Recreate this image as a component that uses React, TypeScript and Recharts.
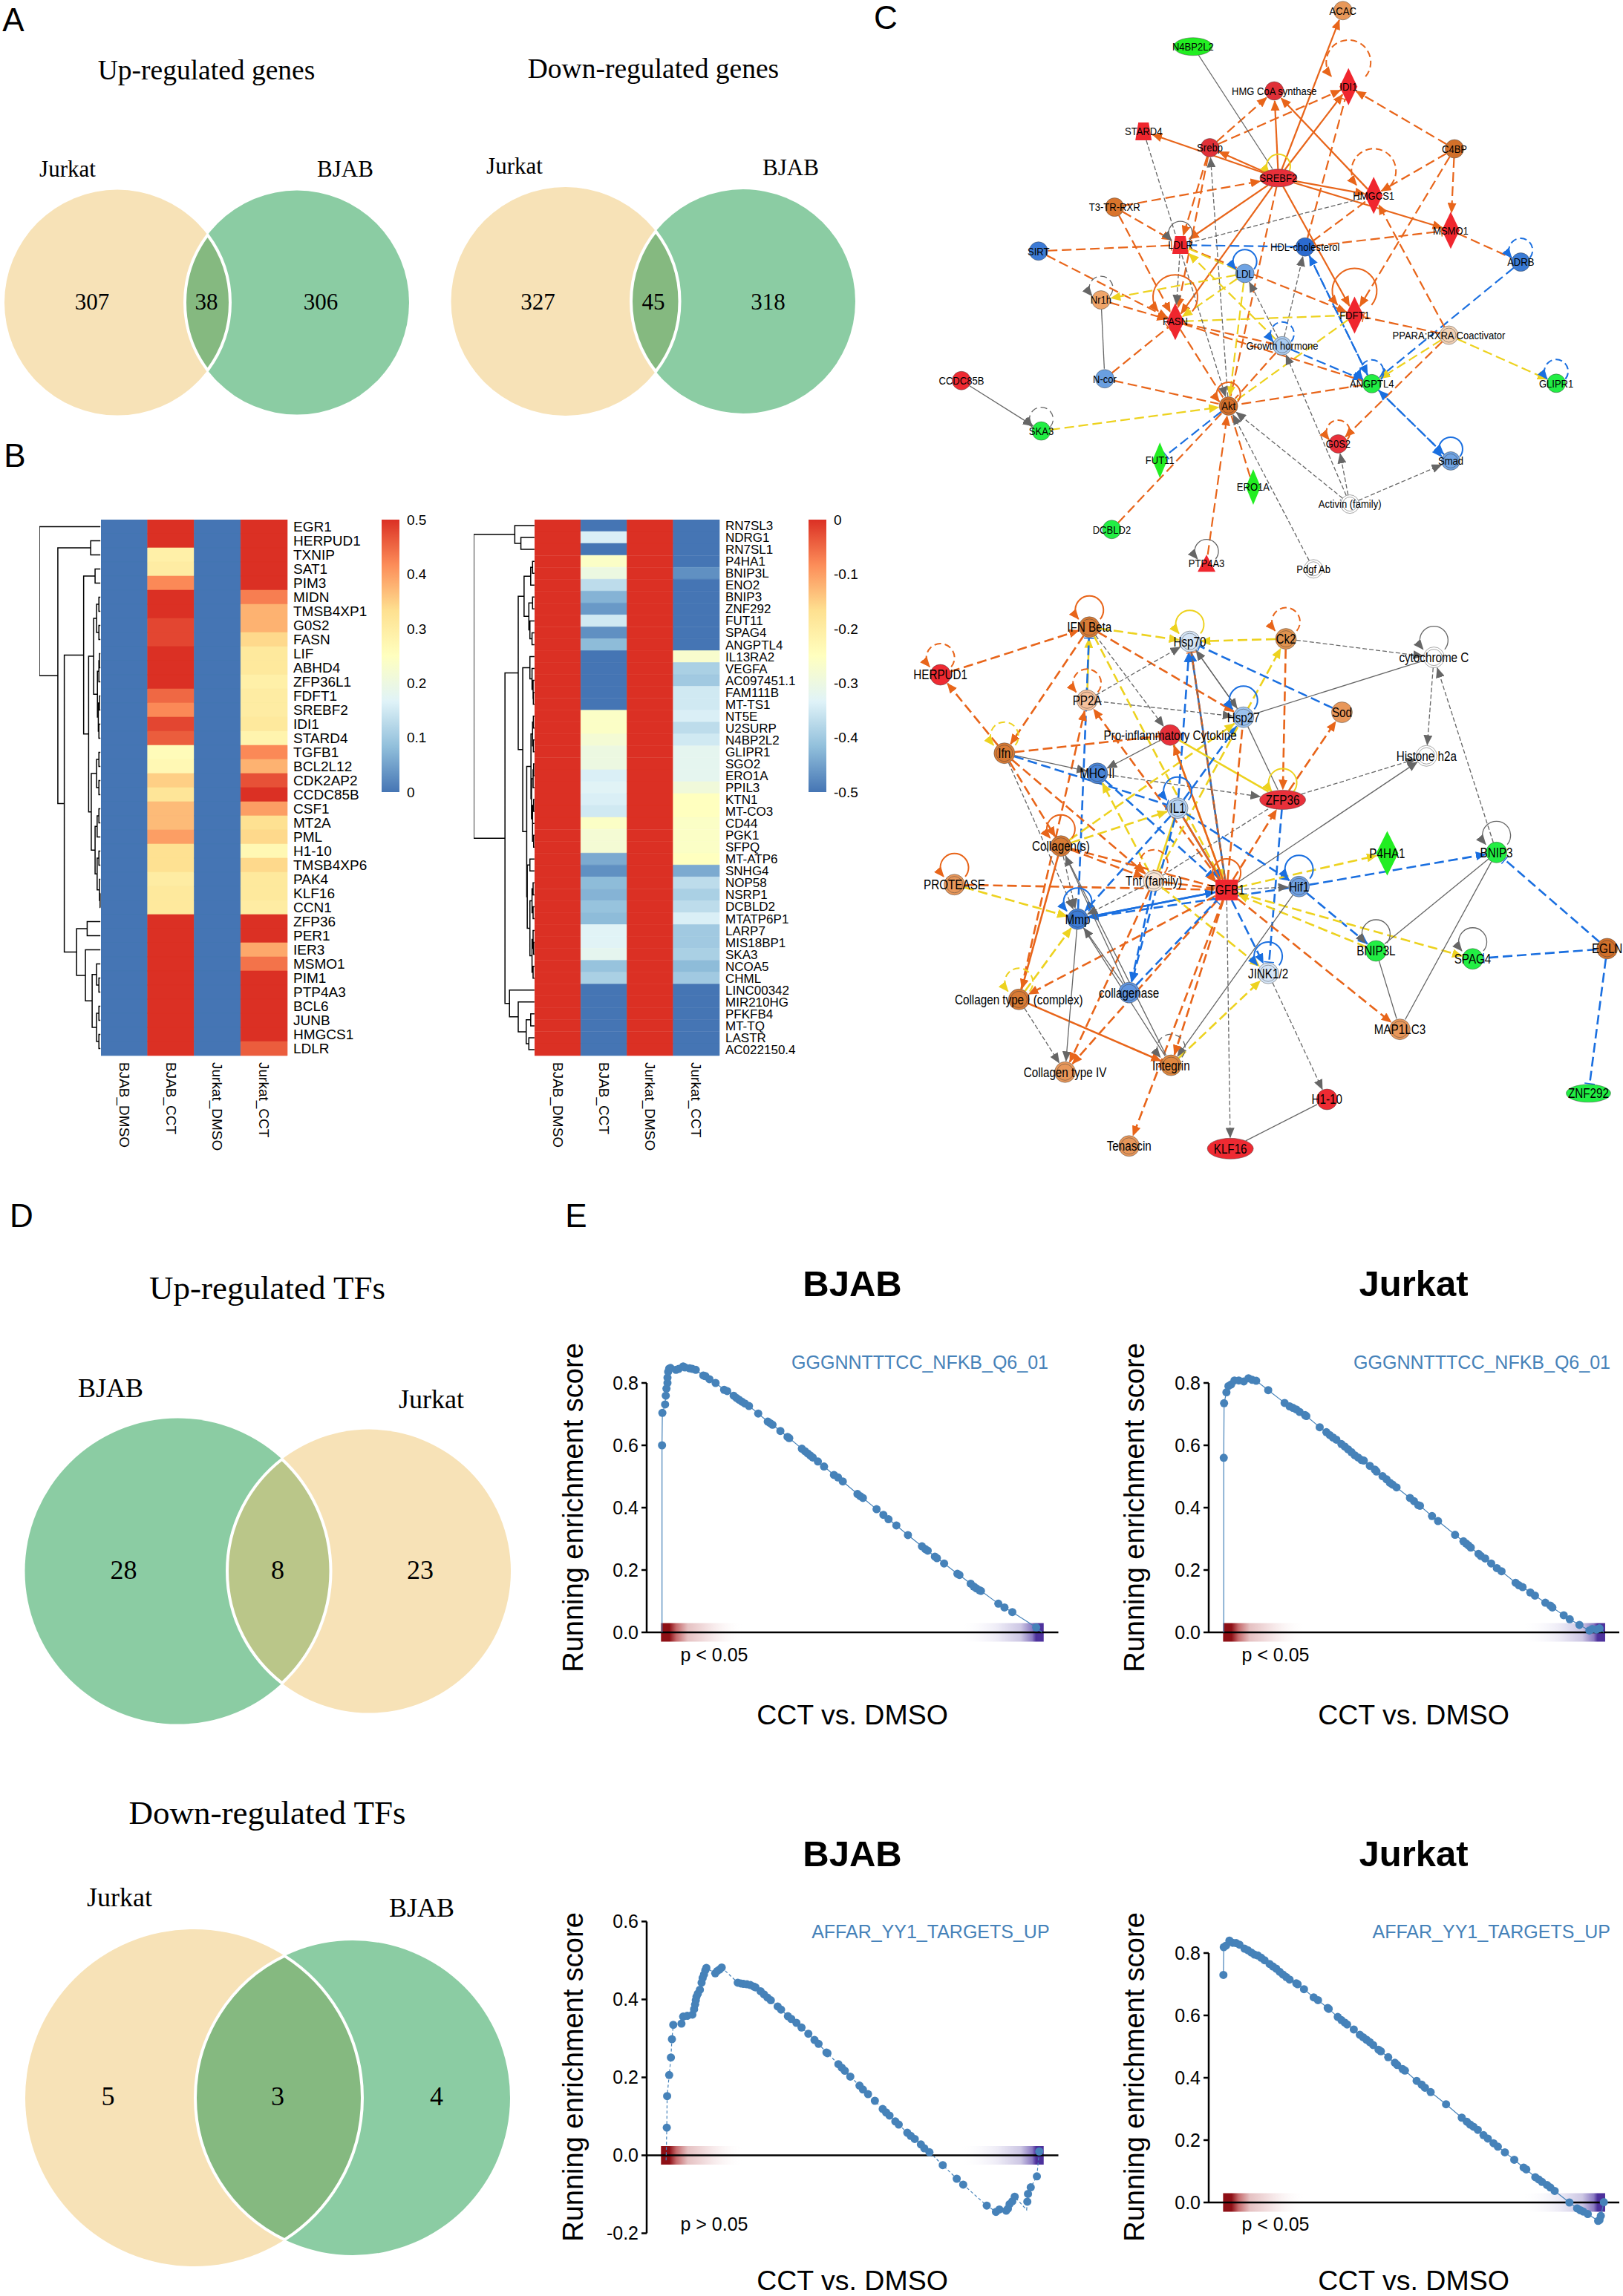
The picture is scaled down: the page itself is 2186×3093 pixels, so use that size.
import React from "react";
import { BarChart, Bar, Cell, XAxis, YAxis, ComposedChart, Line, ScatterChart, Scatter, ReferenceLine, ReferenceArea } from "recharts";

// ---------- Venn data ----------
const upGeneCounts = [307, 38, 306];
const downGeneCounts = [327, 45, 318];
const upTfCounts = [28, 8, 23];
const downTfCounts = [5, 3, 4];

// ---------- Heatmap data ----------
const samples = ["BJAB_DMSO", "BJAB_CCT", "Jurkat_DMSO", "Jurkat_CCT"];
const upGenes = ["EGR1","HERPUD1","TXNIP","SAT1","PIM3","MIDN","TMSB4XP1","G0S2","FASN","LIF","ABHD4","ZFP36L1","FDFT1","SREBF2","IDI1","STARD4","TGFB1","BCL2L12","CDK2AP2","CCDC85B","CSF1","MT2A","PML","H1-10","TMSB4XP6","PAK4","KLF16","CCN1","ZFP36","PER1","IER3","MSMO1","PIM1","PTP4A3","BCL6","JUNB","HMGCS1","LDLR"];
const upBjabCct = [.5,.5,.29,.3,.42,.5,.5,.48,.48,.5,.5,.5,.45,.42,.48,.46,.26,.27,.35,.32,.37,.37,.4,.33,.33,.3,.31,.31,.5,.5,.5,.5,.5,.5,.5,.5,.5,.5];
const upJurkatCct = [.5,.5,.5,.5,.5,.43,.38,.38,.34,.31,.31,.29,.3,.3,.31,.28,.42,.38,.47,.5,.4,.33,.34,.27,.34,.31,.31,.3,.5,.5,.39,.44,.5,.5,.5,.5,.5,.46];
const downGenes = ["RN7SL3","NDRG1","RN7SL1","P4HA1","BNIP3L","ENO2","BNIP3","ZNF292","FUT11","SPAG4","ANGPTL4","IL13RA2","VEGFA","AC097451.1","FAM111B","MT-TS1","NT5E","U2SURP","N4BP2L2","GLIPR1","SGO2","ERO1A","PPIL3","KTN1","MT-CO3","CD44","PGK1","SFPQ","MT-ATP6","SNHG4","NOP58","NSRP1","DCBLD2","MTATP6P1","LARP7","MIS18BP1","SKA3","NCOA5","CHML","LINC00342","MIR210HG","PFKFB4","MT-TQ","LASTR","AC022150.4"];
const downBjabCct = [-.5,-.34,-.5,-.26,-.3,-.37,-.43,-.46,-.35,-.47,-.42,-.5,-.5,-.5,-.5,-.5,-.26,-.26,-.28,-.3,-.3,-.34,-.33,-.34,-.35,-.26,-.28,-.28,-.44,-.47,-.42,-.43,-.41,-.42,-.33,-.33,-.32,-.41,-.39,-.5,-.5,-.5,-.5,-.5,-.5];
const downJurkatCct = [-.5,-.5,-.5,-.5,-.47,-.5,-.5,-.5,-.5,-.5,-.5,-.27,-.39,-.4,-.35,-.35,-.34,-.37,-.35,-.32,-.32,-.32,-.29,-.25,-.25,-.26,-.26,-.26,-.25,-.44,-.37,-.39,-.37,-.34,-.4,-.4,-.39,-.42,-.4,-.5,-.5,-.5,-.5,-.5,-.5];
const upBarTicks = [0, .1, .2, .3, .4, .5];
const downBarTicks = [-.5, -.4, -.3, -.2, -.1, 0];

// [height, childA, childB]; a number child is a row index
const upTree: any = [135, 0, [198, [310, 1, 2], [220,
  [286, [325, 3, 4], [303,
    [320, [330, [338, 5, 6], [338, 7, 8]], [333, [338, [340, 9, 10], 11], [336, [340, 12, 13], [338, 14, 15]]]],
    [312, [330, [338, 16, 17], [338, 18, 19]], [325, [332, [338, 20, 21], 22], [332, [338, 23, 24], [340, 25, [342, 26, 27]]]]]]],
  [262, [298, 28, 29], [292, 30, [315, [330, 31, [338, 32, 33]], [330, [338, 34, 35], [338, 36, 37]]]]]]]];
const downTree: any = [50, [205, 0, [228, 1, 2]], [168,
  [218,
    [240, [265, [272, 3, 4], 5], [258, [272, 6, 7], [262, 8, [270, 9, 10]]]],
    [235,
      [262, 11, [270, 12, [274, 13, [275, 14, 15]]]],
      [250,
        [266, [272, [275, 16, 17], [275, 18, 19]], [268, [274, [276, 20, 21], 22], [272, [276, 23, 24], [272, 25, [276, 26, 27]]]]],
        [252, [262, 28, 29], [262, [270, [274, 30, 31], [274, 32, 33]], [270, [274, 34, [276, 35, 36]], [274, 37, 38]]]]]]],
  [185, 39, [218, 40, [248, [265, 41, 42], [258, 43, 44]]]]]];

// ---------- GSEA data ----------
const nfkbBjabRank = [331,331,332,340,342,344,347,347,349,352,356,372,380,393,398,412,420,430,452,458,470,488,513,522,541,549,557,565,574,586,613,641,648,655,678,699,704,741,750,758,766,773,788,806,835,847,861,904,912,920,960,980,995,1018,1052,1093,1103,1110,1131,1137,1158,1197,1203,1236,1245,1253,1262,1266,1317,1335,1358,1428,1445];
const nfkbBjabEs = [0,.6,.704,.731,.759,.782,.8,.817,.836,.846,.848,.842,.845,.853,.85,.847,.845,.842,.824,.822,.812,.8,.778,.774,.759,.752,.746,.74,.734,.726,.702,.676,.671,.666,.646,.627,.623,.589,.581,.574,.567,.561,.548,.532,.505,.497,.484,.444,.437,.431,.395,.377,.363,.343,.312,.276,.267,.262,.243,.238,.221,.188,.184,.156,.147,.141,.135,.133,.092,.08,.065,.016,0];
const nfkbJurkatRank = [373,373,374,381,387,395,405,418,433,447,458,470,506,555,570,580,590,600,616,620,660,680,690,700,710,725,735,745,755,765,775,785,792,810,825,830,848,860,870,878,890,930,942,955,960,996,1014,1065,1090,1098,1105,1112,1135,1142,1155,1173,1190,1204,1246,1256,1267,1290,1304,1335,1350,1356,1390,1408,1437,1467,1475,1488,1497,1510];
const nfkbJurkatEs = [0,.56,.735,.77,.79,.795,.808,.808,.805,.815,.81,.807,.777,.736,.725,.72,.715,.707,.697,.694,.658,.642,.633,.625,.618,.604,.596,.587,.578,.568,.561,.553,.551,.534,.522,.516,.501,.491,.48,.474,.465,.431,.421,.408,.406,.373,.357,.313,.292,.285,.279,.272,.252,.245,.237,.221,.206,.196,.159,.151,.145,.128,.118,.095,.086,.08,.055,.042,.024,.006,.011,.009,.013,0];
const yy1BjabRank = [343,345,346,352,357,360,364,388,393,405,420,425,428,430,432,436,442,447,450,454,458,461,487,493,500,506,553,562,570,580,590,600,605,620,630,640,650,670,680,700,710,725,740,760,778,790,813,816,848,858,867,883,910,920,935,955,978,988,998,1015,1025,1050,1060,1072,1090,1100,1115,1154,1195,1214,1283,1310,1320,1340,1345,1350,1358,1365,1400,1402,1404,1412,1430,1437];
const yy1BjabEs = [-.013,.071,.152,.206,.251,.298,.335,.338,.356,.358,.361,.375,.387,.398,.407,.415,.425,.443,.455,.464,.475,.481,.467,.473,.477,.482,.443,.441,.44,.439,.437,.433,.431,.421,.413,.405,.398,.382,.374,.357,.35,.34,.328,.312,.296,.286,.264,.262,.234,.225,.217,.202,.179,.169,.157,.14,.119,.11,.102,.087,.079,.058,.05,.042,.028,.018,.008,-.025,-.06,-.075,-.129,-.145,-.139,-.142,-.137,-.125,-.118,-.106,-.14,-.119,-.099,-.082,-.054,.01];
const yy1JurkatRank = [372,373,380,390,400,410,420,435,445,455,465,475,485,495,510,520,530,540,550,560,570,590,594,613,642,655,684,687,714,725,735,742,762,780,790,800,810,820,836,843,865,885,892,908,915,950,965,975,992,1038,1085,1100,1110,1120,1133,1150,1163,1180,1193,1214,1242,1270,1278,1305,1315,1325,1340,1350,1363,1407,1430,1440,1448,1462,1493,1497,1501,1510];
const yy1JurkatEs = [.73,.819,.824,.84,.833,.832,.827,.814,.809,.802,.795,.792,.785,.777,.765,.757,.75,.74,.731,.723,.715,.703,.7,.684,.658,.649,.624,.621,.595,.585,.577,.571,.555,.538,.53,.522,.514,.505,.49,.485,.466,.448,.441,.428,.423,.39,.378,.368,.354,.315,.272,.259,.25,.243,.233,.216,.205,.19,.179,.161,.137,.112,.106,.081,.074,.066,.056,.048,.037,0,-.019,-.025,-.029,-.037,-.059,-.056,-.043,.001];

// ---------- Network data ----------
const net1Layout: any = {
  "ACAC":[968,28,"c","#E8985A"],"N4BP2L2":[647,123,"e","#22EE22",26,12],"HMG CoA synthase":[821,240,"c","#E03038"],"IDI1":[980,229,"d","#F0262E"],
  "STARD4":[541,347,"t","#F0262E"],"Srebp":[683,390,"c","#E03038"],"C4BP":[1207,393,"c","#D2702A"],"SREBF2":[830,470,"e","#E8303A",25,12],
  "HMGCS1":[1034,516,"d","#F0262E"],"T3-TR-RXR":[479,547,"c","#D9742C"],"MSMO1":[1199,608,"d","#F0262E"],"LDLR":[620,647,"t","#F0262E"],
  "SIRT":[316,663,"c","#3B7AD6"],"HDL-cholesterol":[887,652,"c","#2B6BCF"],"ADRB":[1349,692,"c","#3A7BD5"],"LDL":[758,722,"c","#6FA3E3"],
  "Nr1h":[450,792,"c","#EFA56A"],"FASN":[609,849,"d","#F0262E"],"FDFT1":[993,832,"d","#F0262E"],"PPARA:RXRA Coactivator":[1195,885,"r","#F3D2B5"],
  "Growth hormone":[838,913,"r","#A9CBF0"],"N-cor":[458,1000,"c","#6A9FE0"],"CCDC85B":[151,1005,"c","#EE2A32"],"ANGPTL4":[1030,1013,"c","#22EE44"],
  "GLIPR1":[1425,1012,"c","#22EE44"],"Akt":[723,1072,"r","#D5702A"],"SKA3":[322,1138,"c","#22EE44"],"G0S2":[958,1172,"c","#E8303A"],
  "FUT11":[576,1215,"d","#22EE22",10,24],"Smad":[1199,1217,"r","#6FA3E3"],"ERO1A":[776,1286,"d","#22EE22",10,24],"Activin (family)":[983,1331,"r","#FFFFFF"],
  "DCBLD2":[473,1398,"c","#22EE44"],"PTP4A3":[676,1487,"a","#F0262E"],"Pdgf Ab":[905,1502,"r","#FFFFFF"],
};
const net1Edges = [
  ["SREBF2","ACAC","O","s","a"],["SREBF2","HMG CoA synthase","O","s","a"],["SREBF2","IDI1","O","s","a"],["SREBF2","Srebp","O","s","a"],["SREBF2","STARD4","O","s","a"],
  ["SREBF2","HMGCS1","O","s","a"],["SREBF2","MSMO1","O","s","a"],["SREBF2","LDLR","O","s","a"],["SREBF2","FASN","O","s","a"],["SREBF2","FDFT1","O","s","a"],["SREBF2","Akt","O","d","n"],
  ["Srebp","HMG CoA synthase","O","d","a"],["Srebp","IDI1","O","d","a"],["Srebp","LDLR","O","d","a"],["Srebp","FASN","O","d","a"],
  ["T3-TR-RXR","SREBF2","O","d","a"],["T3-TR-RXR","LDLR","O","d","a"],["T3-TR-RXR","FASN","O","d","a"],["HMGCS1","HMG CoA synthase","O","s","a"],
  ["C4BP","IDI1","O","d","a"],["C4BP","HMGCS1","O","d","a"],["C4BP","MSMO1","O","d","a"],["C4BP","FDFT1","O","d","a"],
  ["HDL-cholesterol","IDI1","O","d","t"],["HDL-cholesterol","HMGCS1","O","d","n"],["HDL-cholesterol","MSMO1","O","d","t"],["HDL-cholesterol","LDLR","B","d","t"],
  ["SIRT","LDLR","O","d","t"],["SIRT","FASN","O","d","a"],["Nr1h","FASN","O","d","a"],["N-cor","FASN","O","d","t"],["N-cor","Akt","O","d","n"],["MSMO1","ADRB","O","d","n"],
  ["LDLR","FDFT1","O","d","a"],["LDL","Nr1h","Y","d","a"],["LDL","LDLR","Y","d","t"],["LDL","FASN","Y","d","a"],["LDL","Akt","Y","d","a"],["Growth hormone","LDL","G","d","a"],
  ["Growth hormone","LDLR","Y","d","a"],["Growth hormone","HDL-cholesterol","G","d","a"],["ADRB","ANGPTL4","B","d","a"],["PPARA:RXRA Coactivator","ANGPTL4","Y","d","a"],
  ["PPARA:RXRA Coactivator","GLIPR1","Y","d","a"],["PPARA:RXRA Coactivator","HMGCS1","O","d","a"],["PPARA:RXRA Coactivator","FDFT1","O","d","t"],["PPARA:RXRA Coactivator","G0S2","O","d","a"],
  ["HDL-cholesterol","ANGPTL4","B","d","a"],["ANGPTL4","HDL-cholesterol","B","d","a"],["Growth hormone","ANGPTL4","B","d","a"],["FASN","ANGPTL4","O","d","n"],["FASN","Growth hormone","O","d","n"],
  ["FASN","FDFT1","Y","d","n"],["FDFT1","Akt","Y","d","n"],["Growth hormone","Akt","O","d","n"],["FASN","Akt","O","d","n"],["ANGPTL4","Akt","O","d","n"],["SKA3","Akt","Y","d","a"],
  ["Akt","FUT11","B","d","t"],["DCBLD2","Akt","O","d","n"],["PTP4A3","Akt","O","d","a"],["ERO1A","Akt","O","d","n"],["Pdgf Ab","Akt","G","d","a"],["Activin (family)","Akt","G","d","a"],
  ["Activin (family)","Growth hormone","G","d","a"],["Activin (family)","G0S2","G","d","a"],["Activin (family)","Smad","G","d","a"],["ANGPTL4","Smad","B","d","a"],["Smad","ANGPTL4","B","d","a"],
  ["CCDC85B","SKA3","G","s","a"],["N4BP2L2","SREBF2","G","s","n"],["Nr1h","N-cor","G","s","n"],["STARD4","Akt","G","d","a"],["LDLR","FASN","G","d","a"],["Akt","Srebp","G","d","a"],["LDLR","HMGCS1","G","d","n"],
];
const net1Loops: any = {
  "IDI1":["big","O","d"],"HMGCS1":["big","O","d"],"FASN":["big","O","s"],"FDFT1":["big","O","s"],"LDLR":["small","G","s"],"LDL":["small","B","s"],"Nr1h":["small","G","d"],
  "Growth hormone":["small","B","d"],"ANGPTL4":["small","B","d"],"GLIPR1":["small","B","d"],"ADRB":["small","B","d"],"SREBF2":["small","Y","s"],"Akt":["small","O","s"],
  "SKA3":["small","G","d"],"G0S2":["small","O","d"],"Smad":["small","B","s"],"PTP4A3":["small","G","s"],
};
const net2Layout: any = {
  "IFN Beta":[425,127,"r","#D97B35"],"Hsp70":[640,165,"r","#D5E5F7"],"Ck2":[846,158,"r","#E0934F"],"cytochrome C":[1163,207,"r","#FFFFFF"],"HERPUD1":[106,253,"c","#EE2A32"],
  "PP2A":[420,320,"r","#F5C09B"],"Hsp27":[755,365,"r","#9CC2EE"],"Sod":[966,352,"c","#E8975A"],"Pro-inflammatory Cytokine":[598,412,"c","#E8303A"],"Ifn":[243,460,"r","#D97B35"],
  "Histone h2a":[1147,467,"r","#FFFFFF"],"MHC II":[442,513,"r","#4A85D8"],"ZFP36":[839,583,"e","#E8303A",31,13],"IL1":[614,605,"r","#B5D2F2"],"Collagen(s)":[364,705,"r","#D97B35"],
  "P4HA1":[1063,724,"d","#22EE22",15,30],"BNIP3":[1297,722,"c","#22EE44"],"PROTEASE":[136,807,"r","#E8975A"],"Tnf (family)":[563,797,"r","#F8E5D5"],"TGFB1":[719,821,"s","#F0262E"],
  "Hif1":[874,812,"r","#6FA0E3"],"Mmp":[400,898,"r","#3D7CD6"],"BNIP3L":[1039,982,"c","#22EE44"],"SPAG4":[1246,1003,"c","#22EE44"],"EGLN":[1534,976,"r","#D2702A"],
  "JINK1/2":[808,1041,"r","#D5E5F7"],"collagenase":[510,1092,"r","#5F95E0"],"Collagen type I (complex)":[274,1110,"r","#D97B35"],"MAP1LC3":[1090,1189,"r","#E8975A"],
  "Integrin":[600,1284,"r","#E0883F"],"Collagen type IV":[373,1302,"r","#E8975A"],"ZNF292":[1494,1358,"e","#22EE44",30,12],"H1-10":[934,1374,"c","#EE2A32"],"Tenascin":[510,1497,"r","#E8975A"],"KLF16":[727,1504,"e","#EE2A32",31,14],
};
const net2Edges = [
  ["HERPUD1","IFN Beta","O","d","a"],["Ifn","HERPUD1","O","d","a"],["IFN Beta","Ifn","O","d","a"],["IFN Beta","Hsp70","Y","d","a"],["Ck2","Hsp70","Y","d","a"],["Ck2","ZFP36","O","d","a"],["Ck2","cytochrome C","G","d","a"],
  ["IFN Beta","Pro-inflammatory Cytokine","G","d","a"],["IFN Beta","Hsp27","O","d","a"],["IFN Beta","TGFB1","Y","d","n"],["PP2A","IFN Beta","Y","s","a"],["Mmp","IFN Beta","B","d","t"],["PP2A","Hsp70","G","d","a"],["PP2A","Hsp27","G","d","a"],
  ["TGFB1","PP2A","O","d","a"],["Collagen type I (complex)","PP2A","O","d","a"],["Hsp70","Hsp27","G","s","a"],["Hsp27","Hsp70","G","s","a"],["Sod","Hsp70","B","d","t"],["TGFB1","Hsp70","B","s","a"],["IL1","Hsp70","B","d","a"],["TGFB1","Hsp70","O","d","t"],
  ["Hsp27","ZFP36","G","s","n"],["Hsp70","TGFB1","G","d","n"],["cytochrome C","Histone h2a","G","d","a"],["Hsp27","cytochrome C","G","s","n"],["BNIP3","cytochrome C","G","d","a"],
  ["Ifn","Pro-inflammatory Cytokine","O","d","t"],["Ifn","MHC II","G","s","a"],["Ifn","IL1","B","d","t"],["Ifn","Tnf (family)","O","d","a"],["Ifn","Collagen(s)","O","d","a"],["Ifn","Mmp","G","d","a"],
  ["Pro-inflammatory Cytokine","MHC II","G","s","a"],["Pro-inflammatory Cytokine","ZFP36","Y","s","n"],["Pro-inflammatory Cytokine","TGFB1","Y","d","a"],["MHC II","ZFP36","G","d","a"],["MHC II","TGFB1","B","d","a"],
  ["ZFP36","Sod","O","d","a"],["ZFP36","Histone h2a","G","d","a"],["TGFB1","ZFP36","O","d","a"],["ZFP36","JINK1/2","B","d","t"],["Tnf (family)","ZFP36","G","d","n"],["TGFB1","Histone h2a","G","s","a"],
  ["IL1","Hsp27","B","d","a"],["TGFB1","Hsp27","O","d","n"],["Collagen(s)","Hsp27","Y","d","a"],["Collagen(s)","IL1","Y","d","a"],["Tnf (family)","MHC II","Y","d","a"],["Tnf (family)","Ck2","Y","d","a"],["Tnf (family)","IL1","Y","s","n"],
  ["IL1","TGFB1","B","s","a"],["IL1","Mmp","B","d","a"],["IL1","Hif1","B","d","a"],["TGFB1","IL1","O","s","n"],["IL1","collagenase","B","d","a"],["TGFB1","Pro-inflammatory Cytokine","O","s","a"],
  ["Collagen(s)","Tnf (family)","O","d","a"],["Collagen(s)","TGFB1","O","d","n"],["PROTEASE","TGFB1","O","d","n"],["PROTEASE","Mmp","Y","d","a"],["Tnf (family)","TGFB1","O","d","n"],["TGFB1","Mmp","B","s","a"],["Mmp","TGFB1","B","s","a"],
  ["Hif1","Mmp","B","d","a"],["Tnf (family)","Mmp","G","d","a"],["Collagen(s)","Mmp","G","d","a"],["Tnf (family)","collagenase","B","d","a"],["Hif1","BNIP3","B","d","a"],["TGFB1","P4HA1","Y","d","a"],["TGFB1","Hif1","G","d","a"],
  ["Hif1","BNIP3L","B","d","a"],["TGFB1","SPAG4","Y","d","a"],["BNIP3L","TGFB1","Y","d","a"],["TGFB1","MAP1LC3","O","d","a"],["BNIP3","BNIP3L","G","s","n"],["BNIP3","MAP1LC3","G","s","n"],["BNIP3L","MAP1LC3","G","s","n"],
  ["EGLN","BNIP3","B","d","t"],["EGLN","SPAG4","B","d","t"],["EGLN","ZNF292","B","d","t"],["Hif1","Integrin","G","s","a"],["Tnf (family)","JINK1/2","Y","d","a"],["TGFB1","JINK1/2","B","d","a"],["JINK1/2","H1-10","G","d","a"],
  ["TGFB1","KLF16","G","d","a"],["KLF16","H1-10","G","s","n"],["Integrin","JINK1/2","Y","d","a"],["TGFB1","Integrin","O","d","a"],["TGFB1","Tenascin","O","d","a"],["Collagen type I (complex)","Integrin","O","s","a"],
  ["Collagen type I (complex)","Collagen type IV","G","d","a"],["Collagen type I (complex)","Mmp","Y","d","a"],["Collagen(s)","Collagen type I (complex)","O","s","a"],["TGFB1","Collagen type I (complex)","O","d","a"],
  ["Mmp","Collagen type IV","G","s","a"],["Tnf (family)","Collagen type IV","O","d","a"],["TGFB1","Collagen type IV","O","d","a"],["collagenase","TGFB1","B","d","t"],["Mmp","Integrin","G","s","n"],["Collagen(s)","Integrin","G","s","n"],["collagenase","Mmp","G","s","a"],["collagenase","Collagen(s)","G","s","a"],
];
const net2Loops: any = {
  "IFN Beta":["mid","O","s"],"HERPUD1":["mid","O","d"],"PP2A":["mid","O","d"],"Hsp70":["mid","Y","s"],"Ck2":["mid","O","d"],"cytochrome C":["mid","G","s"],"Hsp27":["mid","B","s"],"Ifn":["mid","Y","d"],"ZFP36":["mid","Y","s"],
  "IL1":["mid","B","s"],"Collagen(s)":["mid","O","s"],"PROTEASE":["mid","O","s"],"Tnf (family)":["mid","O","d"],"TGFB1":["mid","O","s"],"Hif1":["mid","B","s"],"Mmp":["mid","B","s"],"BNIP3":["mid","G","s"],"BNIP3L":["mid","G","s"],
  "SPAG4":["mid","G","s"],"JINK1/2":["mid","B","s"],"Collagen type I (complex)":["mid","Y","d"],"Integrin":["mid","G","d"],
};

// ---------- styling ----------
const SANS = "'Liberation Sans', Arial, sans-serif";
const SERIF = "'Liberation Serif', 'Times New Roman', serif";
const CREAM = "#F7E2B7", GREEN = "#8BCCA3", LENS_G = "#85B980", LENS_Y = "#BAC689";
const STEEL = "#4682B9";
const RAMP = ["#4575B4", "#91BFDB", "#E0F3F8", "#FFFFBF", "#FEE090", "#FC8D59", "#DB3024"];
const EDGE: any = { O: "#E8651A", Y: "#EDD21F", B: "#1A6FE0", G: "#666666" };
const LOOP: any = { big: [30, 33], mid: [19, 23], small: [16, 16] };

function hexRgb(h: string) { return [1, 3, 5].map((i) => parseInt(h.slice(i, i + 2), 16)); }
function ramp(t: number) {
  const p = Math.max(0, Math.min(1, t)) * (RAMP.length - 1);
  const i = Math.min(RAMP.length - 2, Math.floor(p));
  const a = hexRgb(RAMP[i]), b = hexRgb(RAMP[i + 1]);
  const f = p - i;
  return `rgb(${a.map((v, k) => Math.round(v + (b[k] - v) * f)).join(",")})`;
}

function Txt({ x, y, size, children, font = SANS, weight = 400, color = "#000", rotate = 0 }: any) {
  return (
    <div style={{ position: "absolute", left: x, top: y, transform: `translate(-50%,-50%) rotate(${rotate}deg)`, fontFamily: font, fontSize: size, fontWeight: weight, color, whiteSpace: "nowrap", lineHeight: 1.2 }}>
      {children}
    </div>
  );
}
function TxtR({ right, y, size, children, color }: any) {
  return <div style={{ position: "absolute", right: 2186 - right, top: y, transform: "translateY(-50%)", fontFamily: SANS, fontSize: size, color, whiteSpace: "nowrap", lineHeight: 1.2 }}>{children}</div>;
}
function Abs({ left, top, children }: any) {
  return <div style={{ position: "absolute", left, top }}>{children}</div>;
}

// ---------- Venn ----------
function VennCircle(p: any) { return <circle cx={p.cx} cy={p.cy} r={p.payload.r} fill={p.payload.fill} />; }
function VennLens(p: any) {
  const { h, r1, r2, fill } = p.payload;
  const d = `M${p.cx} ${p.cy - h} A${r2} ${r2} 0 0 0 ${p.cx} ${p.cy + h} A${r1} ${r1} 0 0 0 ${p.cx} ${p.cy - h} Z`;
  return <path d={d} fill={fill} stroke="#fff" strokeWidth={4} />;
}
function Venn({ a, b, lens, box }: any) {
  const D = b.x - a.x;
  const da = (D * D + a.r * a.r - b.r * b.r) / (2 * D);
  const h = Math.sqrt(a.r * a.r - da * da);
  const lensRow = [{ x: a.x + da, y: (a.y + b.y) / 2, h, r1: a.r, r2: b.r, fill: lens }];
  return (
    <Abs left={box[0]} top={box[1]}>
      <ScatterChart width={box[2]} height={box[3]} margin={{ top: 0, right: 0, bottom: 0, left: 0 }}>
        <XAxis type="number" dataKey="x" domain={[box[0], box[0] + box[2]]} hide />
        <YAxis type="number" dataKey="y" domain={[box[1], box[1] + box[3]]} reversed hide />
        <Scatter data={[a, b]} shape={VennCircle} isAnimationActive={false} />
        <Scatter data={lensRow} shape={VennLens} isAnimationActive={false} />
      </ScatterChart>
    </Abs>
  );
}

// ---------- Heatmap ----------
function rowsFromTree(tree: any, top: number) {
  const pts: any[] = [];
  const walk = (n: any): any => {
    if (typeof n === "number") return { x: top, y: n + 0.5 };
    const A = walk(n[1]), B = walk(n[2]);
    pts.push({ x: A.x, row: A.y }, { x: n[0], row: A.y }, { x: n[0], row: B.y }, { x: B.x, row: B.y }, { x: B.x, row: null });
    return { x: n[0], y: (A.y + B.y) / 2 };
  };
  walk(tree);
  return pts;
}
function Dendro({ tree, lo, hi, n, left, width }: any) {
  return (
    <Abs left={left} top={700}>
      <ComposedChart width={width} height={722} data={rowsFromTree(tree, hi)} margin={{ top: 0, right: 0, bottom: 0, left: 0 }}>
        <XAxis type="number" dataKey="x" domain={[lo, hi]} hide />
        <YAxis type="number" domain={[0, n]} reversed hide />
        <Line dataKey="row" stroke="#000" strokeWidth={1.5} dot={false} isAnimationActive={false} />
      </ComposedChart>
    </Abs>
  );
}
function SampleTick(p: any) {
  const name = samples[Math.floor(p.payload.value)];
  return <text x={p.x} y={p.y} transform={`rotate(90 ${p.x} ${p.y})`} textAnchor="start" dominantBaseline="central" fontSize={19} fontFamily={SANS} fill="#000">{name}</text>;
}
function Heat({ genes, cols, lo, hi, left, colW, font }: any) {
  const rows = genes.map((g: string) => ({ gene: g, unit: 1 }));
  const t = (v: number) => (v - lo) / (hi - lo);
  return (
    <Abs left={left} top={700}>
      <BarChart layout="vertical" width={colW + 150} height={722 + 140} data={rows} barCategoryGap={0} margin={{ top: 0, right: 0, bottom: 0, left: 0 }}>
        <XAxis type="number" domain={[0, 4]} ticks={[0.5, 1.5, 2.5, 3.5]} axisLine={false} tickSize={0} tickMargin={9} height={140} interval={0} tick={SampleTick} />
        <YAxis type="category" dataKey="gene" orientation="right" width={150} axisLine={false} tickSize={0} tickMargin={8} interval={0} tick={{ fontSize: font, fill: "#000", fontFamily: SANS }} />
        {cols.map((c: number[], k: number) => (
          <Bar key={k} dataKey="unit" stackId="h" isAnimationActive={false}>
            {c.map((v, i) => <Cell key={i} fill={ramp(t(v))} stroke={ramp(t(v))} strokeWidth={0.6} />)}
          </Bar>
        ))}
      </BarChart>
    </Abs>
  );
}
function ColorBar({ ticks, left, grad }: any) {
  const lo = ticks[0], hi = ticks[ticks.length - 1];
  return (
    <Abs left={left} top={688}>
      <ComposedChart width={94} height={391} data={[{ x: 0, v: lo }, { x: 1, v: hi }]} margin={{ top: 12, right: 0, bottom: 12, left: 0 }}>
        <XAxis type="number" dataKey="x" domain={[0, 1]} hide />
        <YAxis type="number" orientation="right" domain={[lo, hi]} ticks={ticks} width={70} axisLine={false} tickSize={0} tickMargin={10} interval={0}
          tick={{ fontSize: 19, fill: "#000", fontFamily: SANS }} />
        <ReferenceArea x1={0} x2={1} y1={lo} y2={hi} fill={`url(#${grad})`} fillOpacity={1} stroke="none" ifOverflow="visible" />
        <Line dataKey="v" stroke="none" dot={false} legendType="none" isAnimationActive={false} />
      </ComposedChart>
    </Abs>
  );
}

// ---------- GSEA ----------
function Gsea({ rank, es, cfg, dotless, dashed }: any) {
  const rows = rank.map((r: number, i: number) => ({ rank: r, es: es[i] }));
  const [x0, x1, s0, s1] = cfg.x;
  const width = 70 + cfg.right - cfg.axisX;
  const top = cfg.zero - cfg.y[1] * cfg.ppu;
  const height = (cfg.y[1] - cfg.y[0]) * cfg.ppu;
  const tk = cfg.ticks;
  const dot = (p: any) => dotless.includes(p.index) ? <g key={p.index} /> : <circle key={p.index} cx={p.cx} cy={p.cy} r={5.5} fill={STEEL} />;
  return (
    <Abs left={cfg.axisX - 70} top={top}>
      <ComposedChart width={width} height={height} data={rows} margin={{ top: 0, right: 0, bottom: 0, left: 0 }}>
        <XAxis type="number" dataKey="rank" domain={[x0, x1]} hide />
        <YAxis type="number" domain={cfg.y} ticks={tk} width={70} axisLine={false} tickSize={7} tickMargin={4} interval={0}
          tickLine={{ stroke: "#000", strokeWidth: 2.5 }} tickFormatter={(v: number) => v.toFixed(1)} tick={{ fontSize: 25, fill: "#000", fontFamily: SANS }} />
        <ReferenceArea x1={s0} x2={s1} y1={-cfg.strip} y2={cfg.strip} fill="url(#gseaStrip)" fillOpacity={1} stroke="none" ifOverflow="visible" />
        <ReferenceLine segment={[{ x: x0, y: tk[0] }, { x: x0, y: tk[tk.length - 1] }]} stroke="#000" strokeWidth={2.5} ifOverflow="visible" />
        <ReferenceLine y={0} stroke="#000" strokeWidth={2.5} ifOverflow="visible" />
        <Line dataKey="es" stroke={STEEL} strokeWidth={1.2} strokeDasharray={dashed ? "4 3" : undefined} dot={dot} isAnimationActive={false} />
      </ComposedChart>
    </Abs>
  );
}

// ---------- Network ----------
function halfSize(n: any, base: number) {
  if (n[2] === "d") return [n[4] || 12, n[5] || 25];
  if (n[2] === "e") return [n[4], n[5]];
  if (n[2] === "t") return [11, 12];
  if (n[2] === "a") return [12, 11.5];
  if (n[2] === "s") return [15, 14];
  return [base, base];
}
function boundary(n: any, ux: number, uy: number, base: number) {
  const [hw, hh] = halfSize(n, base);
  const ax = Math.abs(ux), ay = Math.abs(uy);
  if (n[2] === "d") return 1 / (ax / hw + ay / hh);
  if (n[2] === "s" || n[2] === "t" || n[2] === "a") return 1 / Math.max(ax / hw, ay / hh);
  return 1 / Math.sqrt((ax / hw) ** 2 + (ay / hh) ** 2);
}
function NetNode(p: any) {
  const { cx, cy, payload: d } = p;
  const n = d.node, base = d.base;
  const [hw, hh] = halfSize(n, base);
  const stroke = "rgba(60,60,60,.45)";
  let body: any;
  if (n[2] === "d") body = <path d={`M${cx} ${cy - hh} L${cx + hw} ${cy} L${cx} ${cy + hh} L${cx - hw} ${cy} Z`} fill={n[3]} />;
  else if (n[2] === "e") body = <ellipse cx={cx} cy={cy} rx={hw} ry={hh} fill={n[3]} stroke={stroke} />;
  else if (n[2] === "t") body = <path d={`M${cx - 7} ${cy - hh} H${cx + 7} L${cx + hw} ${cy + hh} H${cx - hw} Z`} fill={n[3]} />;
  else if (n[2] === "a") body = <path d={`M${cx} ${cy - hh} L${cx + hw} ${cy + hh} H${cx - hw} Z`} fill={n[3]} />;
  else if (n[2] === "s") body = <rect x={cx - hw} y={cy - hh} width={2 * hw} height={2 * hh} fill={n[3]} />;
  else body = (
    <g>
      <circle cx={cx} cy={cy} r={hw} fill={n[3]} stroke={stroke} />
      {n[2] === "r" ? <circle cx={cx} cy={cy} r={hw - 3} fill="none" stroke={stroke} /> : null}
    </g>
  );
  let loop = null;
  if (d.loop) {
    const [r, off] = LOOP[d.loop[0]];
    const ly = cy - off, c = r * Math.cos(0.7), s = r * Math.sin(0.7);
    loop = <path d={`M${cx + c} ${ly + s} A${r} ${r} 0 1 0 ${cx - c} ${ly + s}`} fill="none" stroke={EDGE[d.loop[1]]} strokeWidth={d.loop[1] === "G" ? 1.3 : 2}
      strokeDasharray={d.loop[2] === "d" ? "9 5" : undefined} markerEnd={`url(#arrow${d.loop[1]})`} />;
  }
  return (
    <g>
      {loop}
      {body}
      <text transform={`translate(${cx} ${cy}) scale(.87 1)`} textAnchor="middle" dominantBaseline="central" fontSize={d.font} fontFamily={SANS} fill="#000">{d.label}</text>
    </g>
  );
}
function Net({ layout, edges, loops, left, top, font, base, lw }: any) {
  const W = 986, H = 800, sx = W / 1568, sy = H / 1568;
  const nodeRows = Object.keys(layout).map((k) => ({ x: layout[k][0], y: layout[k][1], label: k, node: layout[k], loop: loops[k], font, base }));
  const segs = edges.map((e: string[]) => {
    const a = layout[e[0]], b = layout[e[1]];
    const dx = (b[0] - a[0]) * sx, dy = (b[1] - a[1]) * sy;
    const L = Math.hypot(dx, dy) || 1, ux = dx / L, uy = dy / L;
    const ta = boundary(a, ux, uy, base), tb = boundary(b, ux, uy, base) + 1;
    return {
      seg: [{ x: a[0] + (ux * ta) / sx, y: a[1] + (uy * ta) / sy }, { x: b[0] - (ux * tb) / sx, y: b[1] - (uy * tb) / sy }],
      c: e[2], dash: e[3] === "d", end: e[4],
    };
  });
  return (
    <Abs left={left} top={top}>
      <ScatterChart width={W} height={H} margin={{ top: 0, right: 0, bottom: 0, left: 0 }}>
        <XAxis type="number" dataKey="x" domain={[0, 1568]} hide />
        <YAxis type="number" dataKey="y" domain={[0, 1568]} reversed hide />
        {segs.map((s: any, i: number) => (
          <ReferenceLine key={i} segment={s.seg} ifOverflow="visible" stroke={EDGE[s.c]} strokeWidth={s.c === "G" ? 1.3 : lw}
            strokeDasharray={s.dash ? (s.c === "G" ? "6 3" : "13 6") : undefined}
            markerEnd={s.end === "a" ? `url(#arrow${s.c})` : s.end === "t" ? `url(#tee${s.c})` : undefined} />
        ))}
        <Scatter data={nodeRows} shape={NetNode} isAnimationActive={false} />
      </ScatterChart>
    </Abs>
  );
}

function Defs() {
  const stops = (id: string) => (
    <linearGradient id={id} x1="0" y1="1" x2="0" y2="0">
      {RAMP.map((c, i) => <stop key={i} offset={i / (RAMP.length - 1)} stopColor={c} />)}
    </linearGradient>
  );
  return (
    <svg width="1" height="1" style={{ position: "absolute", left: 0, top: 0 }}>
      <defs>
        {stops("heatUp")}
        {stops("heatDown")}
        <linearGradient id="gseaStrip" x1="0" y1="0" x2="1" y2="0">
          <stop offset="0" stopColor="#8E0F15" />
          <stop offset=".022" stopColor="#8E0F15" />
          <stop offset=".04" stopColor="#C56A6C" />
          <stop offset=".07" stopColor="#E5C1C2" />
          <stop offset=".12" stopColor="#F3E0E1" />
          <stop offset=".216" stopColor="#FFFFFF" stopOpacity="0" />
          <stop offset=".78" stopColor="#FFFFFF" stopOpacity="0" />
          <stop offset=".88" stopColor="#EDEBF6" />
          <stop offset=".94" stopColor="#CDC7E4" />
          <stop offset=".97" stopColor="#8B7BC2" />
          <stop offset=".98" stopColor="#4D319C" />
          <stop offset="1" stopColor="#4D319C" />
        </linearGradient>
        {Object.keys(EDGE).map((k) => (
          <marker key={k} id={`arrow${k}`} markerUnits="userSpaceOnUse" markerWidth={14} markerHeight={12} refX={13} refY={6} orient="auto">
            <path d="M0,0 L14,6 L0,12 Z" fill={EDGE[k]} />
          </marker>
        ))}
        {Object.keys(EDGE).map((k) => (
          <marker key={k} id={`tee${k}`} markerUnits="userSpaceOnUse" markerWidth={4} markerHeight={14} refX={2} refY={7} orient="auto">
            <path d="M2,0 V14" stroke={EDGE[k]} strokeWidth={1.5} />
          </marker>
        ))}
      </defs>
    </svg>
  );
}

const cfgNfkbB = { axisX: 871, right: 1425.5, zero: 2198.6, ppu: 420, y: [-0.1, 0.9], ticks: [0, .2, .4, .6, .8], strip: .03, x: [286, 1493, 328, 1450] };
const cfgNfkbJ = { axisX: 1627.7, right: 2181.5, zero: 2198.6, ppu: 420, y: [-0.1, 0.9], ticks: [0, .2, .4, .6, .8], strip: .03, x: [328, 1558, 371, 1514] };
const cfgYy1B = { axisX: 871, right: 1425.5, zero: 2903.5, ppu: 525, y: [-0.22, 0.62], ticks: [-.2, 0, .2, .4, .6], strip: .024, x: [286, 1493, 328, 1450] };
const cfgYy1J = { axisX: 1627.7, right: 2181.5, zero: 2966.9, ppu: 420, y: [-0.1, 0.9], ticks: [0, .2, .4, .6, .8], strip: .03, x: [328, 1558, 371, 1514] };

export default function App() {
  return (
    <div style={{ position: "absolute", left: 0, top: 0, width: 2186, height: 3093, overflow: "hidden", background: "#fff", fontFamily: SANS }}>
      <Defs />
      <Txt x={18} y={27} size={44}>A</Txt>
      <Txt x={20} y={614} size={44}>B</Txt>
      <Txt x={1193} y={24} size={44}>C</Txt>
      <Txt x={29} y={1638} size={44}>D</Txt>
      <Txt x={776} y={1638} size={44}>E</Txt>

      {/* A */}
      <Venn box={[0, 240, 570, 330]} lens={LENS_G} a={{ x: 158, y: 407.6, r: 152, fill: CREAM }} b={{ x: 400, y: 407.6, r: 151, fill: GREEN }} />
      <Venn box={[590, 240, 580, 330]} lens={LENS_G} a={{ x: 761.5, y: 406, r: 154, fill: CREAM }} b={{ x: 1001, y: 406, r: 151, fill: GREEN }} />
      <Txt x={278} y={94} size={37.5} font={SERIF}>Up-regulated genes</Txt>
      <Txt x={880} y={92} size={37.5} font={SERIF}>Down-regulated genes</Txt>
      <Txt x={91} y={228} size={31} font={SERIF}>Jurkat</Txt>
      <Txt x={465} y={228} size={31} font={SERIF}>BJAB</Txt>
      <Txt x={693} y={224} size={31} font={SERIF}>Jurkat</Txt>
      <Txt x={1065} y={226} size={31} font={SERIF}>BJAB</Txt>
      <Txt x={124} y={407} size={31} font={SERIF}>{upGeneCounts[0]}</Txt>
      <Txt x={278} y={407} size={31} font={SERIF}>{upGeneCounts[1]}</Txt>
      <Txt x={432} y={407} size={31} font={SERIF}>{upGeneCounts[2]}</Txt>
      <Txt x={724.6} y={407} size={31} font={SERIF}>{downGeneCounts[0]}</Txt>
      <Txt x={880} y={407} size={31} font={SERIF}>{downGeneCounts[1]}</Txt>
      <Txt x={1034.6} y={407} size={31} font={SERIF}>{downGeneCounts[2]}</Txt>

      {/* B */}
      <Dendro tree={upTree} lo={135} hi={343} n={38} left={53.4} width={82.2} />
      <Heat genes={upGenes} cols={[upGenes.map(() => 0), upBjabCct, upGenes.map(() => 0), upJurkatCct]} lo={0} hi={.5} left={136} colW={251} font={19} />
      <ColorBar ticks={upBarTicks} left={514} grad="heatUp" />
      <Dendro tree={downTree} lo={50} hi={279} n={45} left={637.9} width={81.8} />
      <Heat genes={downGenes} cols={[downGenes.map(() => 0), downBjabCct, downGenes.map(() => 0), downJurkatCct]} lo={-.5} hi={0} left={720} colW={249} font={17} />
      <ColorBar ticks={downBarTicks} left={1089} grad="heatDown" />

      {/* C */}
      <Net layout={net1Layout} edges={net1Edges} loops={net1Loops} left={1200} top={0} font={15} base={12.5} lw={2.2} />
      <Net layout={net2Layout} edges={net2Edges} loops={net2Loops} left={1200} top={780} font={17.5} base={14} lw={2.6} />

      {/* D */}
      <Venn box={[0, 1880, 720, 470]} lens={LENS_Y} a={{ x: 239.5, y: 2116.6, r: 206, fill: GREEN }} b={{ x: 497, y: 2116.6, r: 191, fill: CREAM }} />
      <Venn box={[0, 2590, 720, 480]} lens={LENS_G} a={{ x: 261, y: 2826, r: 227, fill: CREAM }} b={{ x: 475, y: 2826, r: 212, fill: GREEN }} />
      <Txt x={360} y={1735} size={45} font={SERIF}>Up-regulated TFs</Txt>
      <Txt x={360} y={2442} size={45} font={SERIF}>Down-regulated TFs</Txt>
      <Txt x={149} y={1871} size={36} font={SERIF}>BJAB</Txt>
      <Txt x={581} y={1886} size={36} font={SERIF}>Jurkat</Txt>
      <Txt x={161} y={2557} size={36} font={SERIF}>Jurkat</Txt>
      <Txt x={568} y={2571} size={36} font={SERIF}>BJAB</Txt>
      <Txt x={166.6} y={2116} size={36} font={SERIF}>{upTfCounts[0]}</Txt>
      <Txt x={374} y={2116} size={36} font={SERIF}>{upTfCounts[1]}</Txt>
      <Txt x={566} y={2116} size={36} font={SERIF}>{upTfCounts[2]}</Txt>
      <Txt x={145.4} y={2825} size={36} font={SERIF}>{downTfCounts[0]}</Txt>
      <Txt x={374} y={2825} size={36} font={SERIF}>{downTfCounts[1]}</Txt>
      <Txt x={588} y={2825} size={36} font={SERIF}>{downTfCounts[2]}</Txt>

      {/* E */}
      <Gsea rank={nfkbBjabRank} es={nfkbBjabEs} cfg={cfgNfkbB} dotless={[0, nfkbBjabRank.length - 1]} />
      <Gsea rank={nfkbJurkatRank} es={nfkbJurkatEs} cfg={cfgNfkbJ} dotless={[0, nfkbJurkatRank.length - 1]} />
      <Gsea rank={yy1BjabRank} es={yy1BjabEs} cfg={cfgYy1B} dotless={[0, yy1BjabRank.indexOf(1400)]} dashed />
      <Gsea rank={yy1JurkatRank} es={yy1JurkatEs} cfg={cfgYy1J} dotless={[]} />

      {[[1148, 1729, 2031, 773, 2310, "BJAB"], [1904, 1729, 2031, 1528.6, 2310, "Jurkat"], [1148, 2497, 2798, 773, 3072, "BJAB"], [1904, 2497, 2798, 1528.6, 3072, "Jurkat"]].map((t: any, i) => (
        <React.Fragment key={i}>
          <Txt x={t[0]} y={t[1]} size={49} weight={700}>{t[5]}</Txt>
          <Txt x={t[3]} y={t[2]} size={38} rotate={-90}>Running enrichment score</Txt>
          <Txt x={t[0]} y={t[4]} size={37.5}>CCT vs. DMSO</Txt>
        </React.Fragment>
      ))}
      <TxtR right={1412} y={1835} size={25} color={STEEL}>GGGNNTTTCC_NFKB_Q6_01</TxtR>
      <TxtR right={2169} y={1835} size={25} color={STEEL}>GGGNNTTTCC_NFKB_Q6_01</TxtR>
      <TxtR right={1413.6} y={2602} size={25} color={STEEL}>AFFAR_YY1_TARGETS_UP</TxtR>
      <TxtR right={2169} y={2602} size={25} color={STEEL}>AFFAR_YY1_TARGETS_UP</TxtR>
      <Txt x={962} y={2228.6} size={25}>p &lt; 0.05</Txt>
      <Txt x={1718} y={2228.6} size={25}>p &lt; 0.05</Txt>
      <Txt x={962} y={2996} size={25}>p &gt; 0.05</Txt>
      <Txt x={1718} y={2996} size={25}>p &lt; 0.05</Txt>
    </div>
  );
}
